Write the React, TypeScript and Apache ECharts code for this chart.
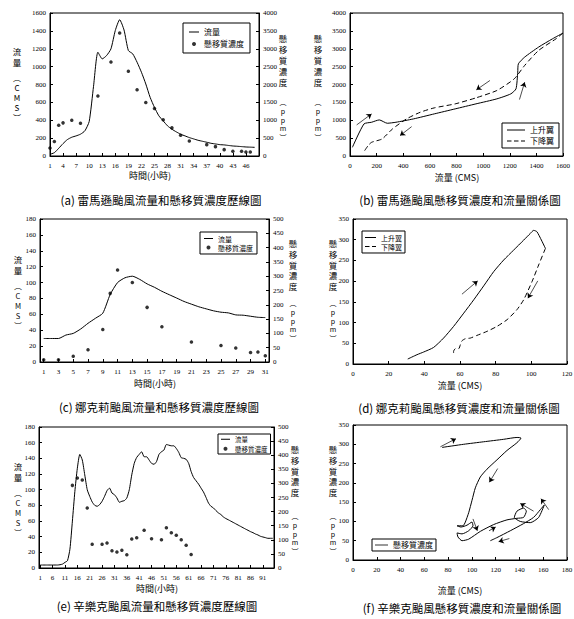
import React, { useEffect, useRef } from 'react';
import * as echarts from 'echarts';

const FONT = '"Liberation Serif", "Noto Sans CJK TC", serif';
const CJK = '"Noto Sans CJK TC", "Liberation Serif", sans-serif';

// ---------- (a) 雷馬遜颱風 流量 / 懸移質濃度 歷線 ----------
const hoursA = Array.from({ length: 49 }, (_, i) => String(i + 1));
const flowA = [19, 37, 86, 139, 184, 210, 225, 244, 281, 386, 780, 1161, 1087, 1124, 1199, 1405, 1525, 1410, 1180, 1143, 1049, 937, 806, 656, 543, 450, 393, 337, 300, 270, 244, 225, 206, 191, 176, 165, 154, 142, 135, 127, 124, 118, 112, 109, 105, 101, 99, 97];
const concAHours = [1, 2, 3, 4, 6, 8, 12, 15, 17, 19, 21, 23, 25, 27, 29, 31, 33, 37, 39, 41, 43, 45, 46, 47];
const concAValues = [225, 403, 862, 927, 1002, 918, 1677, 2632, 3438, 2370, 1855, 1499, 1330, 1012, 787, 581, 422, 318, 262, 178, 131, 131, 112, 112];

// ---------- (b) 雷馬遜颱風 關係圖 ----------
const rise2 = [[18, 243], [105, 897], [162, 944], [220, 1009], [280, 916], [345, 944], [476, 1037], [633, 1178], [790, 1318], [946, 1458], [1103, 1598], [1208, 1738], [1247, 1879], [1260, 2346], [1265, 2579], [1312, 2766], [1417, 3047], [1522, 3280], [1600, 3439]];
const fall2 = [[1600, 3439], [1548, 3280], [1417, 2953], [1312, 2533], [1234, 2159], [1103, 1832], [946, 1626], [790, 1458], [633, 1346], [528, 1224], [424, 1037], [319, 757], [241, 477], [162, 383], [136, 290], [110, 150], [105, 121]];
const arrows2 = [[50, 869, 162, 1178, 0], [1051, 2112, 949, 1850, 0], [463, 822, 376, 570, 0], [1548, 3626, 1621, 3159, 0.4], [1273, 1579, 1312, 2065, -0.3]];

// ---------- (c) 娜克莉颱風 歷線 ----------
const hoursC = Array.from({ length: 31 }, (_, i) => String(i + 1));
const flowC = [29.6, 29.6, 29.6, 33.9, 36, 41.5, 48.7, 55, 61.4, 85, 100, 106, 108, 104, 98.3, 94, 89, 84.7, 80.5, 76.2, 72.8, 69.5, 66.9, 64.4, 62.7, 61.8, 59.3, 58.9, 57.6, 56.3, 55.9];
const concCHours = [1, 3, 5, 7, 9, 10, 11, 13, 15, 17, 21, 25, 27, 29, 30, 31];
const concCValues = [8, 8, 20, 43, 114, 240, 322, 278, 191, 123, 70, 58, 49, 33, 35, 22];

// ---------- (d) 娜克莉颱風 關係圖 ----------
const rise4 = [[30.7, 12], [35.9, 22.5], [39.6, 28.9], [45.2, 40], [50.8, 62.6], [56.4, 90.7], [62.1, 122.8], [67.7, 154.9], [73.3, 188.6], [78.9, 223], [84.5, 251], [90.1, 275], [95.7, 299], [99.4, 315], [101.3, 322.6], [103.2, 319], [107.9, 279]];
const fall4 = [[107.9, 279], [104.1, 239], [100.4, 199], [95.7, 155], [91.9, 131], [86.4, 107], [80.7, 90.7], [75.1, 78.7], [69.5, 69], [65.8, 62.6], [63, 61], [61.1, 56], [60.2, 46.5], [59.3, 37], [57.4, 37], [56.4, 30.5], [56.4, 26.5]];
const arrows4 = [[61.1, 168.5, 69.9, 200.6, 0], [103.6, 200.6, 98.1, 158.9, 0]];

// ---------- (e) 辛樂克颱風 歷線 ----------
const hoursE = Array.from({ length: 95 }, (_, i) => String(i + 1));
const flowE = [
  3.8, 3.8, 3.8, 3.8, 3.8, 3.8, 3.8, 3.8,
  4.2, 5, 7.2, 9.3, 24, 59.9, 97.8, 127.3, 145, 137.9,
  118.9, 99.9, 91.5, 84.3, 80.1, 78.8, 80.9, 85.2, 91.5, 98.7,
  102, 95.7, 93.6, 89.4, 83.9, 85.2, 86, 89.4, 99.9, 118.9,
  133.6, 141.2, 145, 148.4, 142, 142, 137.9, 133.6, 132.4, 135.8,
  145, 148.4, 150.5, 157.7, 156.8, 156, 156, 152.6, 147.6, 140.8,
  140, 138.7, 133.6, 123.1, 115.5, 111.3, 107.1, 102, 97, 90.2,
  83, 78.8, 76.7, 73.4, 70.4, 68.3, 65.3, 63.2, 61.6, 59.9,
  58.2, 56.5, 54.8, 53.1, 51.4, 49.7, 48.1, 46.4, 45.1, 43.4,
  42.2, 40.5, 39.6, 38.8, 37.9, 37.9, 37.9,
];
const concEHours = [14, 16, 18, 20, 22, 26, 28, 30, 32, 34, 36, 38, 40, 43, 46, 50, 52, 54, 56, 58, 60, 62];
const concEValues = [293, 319, 312, 213, 84, 84, 89, 61, 57, 63, 47, 103, 107, 134, 104, 100, 143, 125, 116, 100, 81, 48];

// ---------- (f) 辛樂克颱風 關係圖 ----------
const loop6 = [[74.9, 291.9], [93.1, 300], [109.9, 306.5], [126.7, 312.9], [137.9, 317.7], [141.3, 316.1], [137.9, 304], [129.5, 283.9], [121.1, 259.7], [112.7, 235.5], [107.1, 215.3], [102.9, 187.1], [100.1, 154.8], [97.3, 122.6], [94.5, 98.4], [92.5, 88.7], [87.5, 88.7], [90.8, 85.5], [95.9, 90.3], [100.1, 98.4], [100.9, 88.7], [97.3, 75.8], [91.7, 67.7], [87.5, 70.2], [88.3, 59.7], [91.7, 50], [97.3, 54], [107.1, 74.2], [118.3, 91.9], [129.5, 104], [137.9, 108.1], [143.5, 110.5], [145.8, 126.6], [143.5, 134.7], [137.9, 126.6], [135.7, 110.5], [140.7, 100], [149.1, 96.8], [156.2, 110.5], [160.9, 142.7], [157.6, 130.6], [151.9, 110.5], [143.5, 94.4], [132.3, 75.8], [121.1, 58.1], [115.5, 50]];
const arrows6 = [[73.5, 293.5, 86.6, 314.5, 0], [121.7, 237.1, 114.7, 201.6, 0], [100.9, 106.5, 104.6, 75.8, 0.4], [114.4, 75.8, 120, 85.5, 0], [131.5, 55.6, 122.5, 47.6, 0], [151.9, 126.6, 140.7, 146.8, -0.4], [164.6, 130.6, 158.1, 158.9, -0.4]];

const captions = [
  '(a) 雷馬遜颱風流量和懸移質濃度歷線圖',
  '(b) 雷馬遜颱風懸移質濃度和流量關係圖',
  '(c) 娜克莉颱風流量和懸移質濃度歷線圖',
  '(d) 娜克莉颱風懸移質濃度和流量關係圖',
  '(e) 辛樂克颱風流量和懸移質濃度歷線圖',
  '(f) 辛樂克颱風懸移質濃度和流量關係圖',
];

const black = '#000';
const plain = (v: number) => String(v);

function valAxis(gridIndex: number, min: number, max: number, interval: number, extra: any = {}, margin = 4) {
  return {
    type: 'value', gridIndex, min, max, interval,
    axisLine: { show: true, onZero: false, lineStyle: { color: black, width: 1 } },
    axisTick: { show: true, inside: true, length: 3, lineStyle: { color: black, width: 1 } },
    axisLabel: { color: black, fontSize: 7, fontFamily: FONT, margin, formatter: plain },
    splitLine: { show: false },
    ...extra,
  };
}

function catAxis(gridIndex: number, data: string[], boundaryGap: boolean, interval: any) {
  return {
    type: 'category', gridIndex, data, boundaryGap,
    axisLine: { show: true, onZero: false, lineStyle: { color: black, width: 1 } },
    axisTick: { show: true, inside: true, length: 3, interval, alignWithLabel: true, lineStyle: { color: black, width: 1 } },
    axisLabel: { interval, color: black, fontSize: 7, fontFamily: FONT, margin: 6 },
    splitLine: { show: false },
  };
}

function arrowMark(list: number[][]) {
  return {
    silent: true,
    symbol: ['none', 'arrow'],
    symbolSize: 5,
    label: { show: false },
    emphasis: { disabled: true },
    lineStyle: { color: black, width: 0.7, type: 'solid' },
    data: list.map((a) => [
      { coord: [a[0], a[1]], lineStyle: { curveness: a[4], color: black, width: 0.7, type: 'solid' } },
      { coord: [a[2], a[3]] },
    ]),
  };
}

function vtext(x: number, top: number, s: string, size: number, lh: number) {
  return {
    type: 'text', x, y: top, silent: true,
    style: { text: Array.from(s).join('\n'), fontSize: size, lineHeight: lh, fontFamily: CJK, fill: black, align: 'center', verticalAlign: 'top' },
  };
}
function htext(x: number, y: number, s: string, size: number) {
  return {
    type: 'text', x, y, silent: true,
    style: { text: s, fontSize: size, fontFamily: CJK, fill: black, align: 'center', verticalAlign: 'middle' },
  };
}

// legend icons: thin solid bar / dashed bar, aspect = itemWidth : 1
const solidIcon = (w: number) => `path://M0,0H${w * 10}V10H0Z`;
const dashIcon = (w: number) => {
  const L = w * 10;
  let d = '';
  for (let x = 0; x < L; x += 70) d += `M${x},0H${Math.min(x + 45, L)}V10H${x}Z`;
  return 'path://' + d;
};

export default function App() {
  const ref = useRef<HTMLDivElement>(null);
  useEffect(() => {
    const chart = echarts.init(ref.current!, null, { renderer: 'svg' });
    const gridBase = { show: true, borderColor: black, borderWidth: 1, backgroundColor: 'transparent', containLabel: false, outerBoundsMode: 'none' };
    const legendBase = {
      orient: 'vertical', borderColor: black, borderWidth: 1, backgroundColor: '#fff',
      itemHeight: 4, selectedMode: false, borderRadius: 0, symbolKeepAspect: true,
    };
    const lineS = { color: black, width: 1 };
    const flowLegend = (w: number) => [{ name: '流量', icon: solidIcon(w) }, { name: '懸移質濃度', icon: 'circle' }];
    const limbLegend = (w: number) => [{ name: '上升翼', icon: solidIcon(w) }, { name: '下降翼', icon: dashIcon(w) }];
    const option: any = {
      animation: false,
      backgroundColor: '#fff',
      grid: [
        { left: 50, top: 13, width: 209, height: 143 },
        { left: 350, top: 13, width: 213, height: 143 },
        { left: 40, top: 219, width: 229, height: 143 },
        { left: 353, top: 219, width: 214, height: 145 },
        { left: 39, top: 427, width: 235, height: 141 },
        { left: 353, top: 425, width: 214, height: 135 },
      ].map((g) => ({ ...gridBase, ...g })),
      xAxis: [
        catAxis(0, hoursA, false, (i: number) => i % 3 === 0 && i <= 45),
        valAxis(1, 0, 1600, 200, {}, 6),
        catAxis(2, hoursC, true, 1),
        valAxis(3, 0, 120, 20, {}, 6),
        catAxis(4, hoursE, true, 4),
        valAxis(5, 0, 180, 20, {}, 6),
      ],
      yAxis: [
        valAxis(0, 0, 1600, 200),
        valAxis(0, 0, 4000, 500, { position: 'right' }),
        valAxis(1, 0, 4000, 500),
        valAxis(2, 0, 180, 20),
        valAxis(2, 0, 500, 50, { position: 'right' }),
        valAxis(3, 0, 350, 50),
        valAxis(4, 0, 180, 20),
        valAxis(4, 0, 500, 50, { position: 'right' }),
        valAxis(5, 0, 350, 50),
      ],
      legend: [
        { ...legendBase, left: 183, top: 23, itemWidth: 10, itemGap: 4, padding: [5, 6], textStyle: { color: black, fontSize: 8, fontFamily: CJK }, data: flowLegend(10) },
        { ...legendBase, left: 502, top: 123, itemWidth: 18, itemGap: 3, padding: [3, 5], textStyle: { color: black, fontSize: 8, fontFamily: CJK }, data: limbLegend(18) },
        { ...legendBase, left: 200, top: 232, itemWidth: 9, itemGap: 2, padding: [3, 4], textStyle: { color: black, fontSize: 7, fontFamily: CJK }, data: flowLegend(9) },
        { ...legendBase, left: 362, top: 231, itemWidth: 11, itemGap: 2, padding: [3, 3], textStyle: { color: black, fontSize: 7, fontFamily: CJK }, data: limbLegend(11) },
        { ...legendBase, left: 218, top: 434, itemWidth: 9, itemGap: 3, padding: [2, 3], textStyle: { color: black, fontSize: 6.5, fontFamily: CJK }, data: flowLegend(9) },
        { ...legendBase, left: 372, top: 539, itemWidth: 13, itemGap: 1, padding: [2, 3], textStyle: { color: black, fontSize: 8, fontFamily: CJK }, data: [{ name: '懸移質濃度', icon: solidIcon(13) }] },
      ],
      series: [
        { type: 'line', name: '流量', xAxisIndex: 0, yAxisIndex: 0, data: flowA, symbol: 'none', smooth: 0.2, lineStyle: lineS, itemStyle: { color: black } },
        { type: 'scatter', name: '懸移質濃度', xAxisIndex: 0, yAxisIndex: 1, data: concAHours.map((h, i) => [String(h), concAValues[i]]), symbol: 'circle', symbolSize: 3.5, itemStyle: { color: black } },
        { type: 'line', name: '上升翼', xAxisIndex: 1, yAxisIndex: 2, data: rise2, symbol: 'none', smooth: 0.2, lineStyle: lineS, itemStyle: { color: black }, markLine: arrowMark(arrows2) },
        { type: 'line', name: '下降翼', xAxisIndex: 1, yAxisIndex: 2, data: fall2, symbol: 'none', smooth: 0.2, lineStyle: { color: black, width: 1, type: [5, 3] }, itemStyle: { color: black } },
        { type: 'line', name: '流量', xAxisIndex: 2, yAxisIndex: 3, data: flowC, symbol: 'none', smooth: 0.2, lineStyle: lineS, itemStyle: { color: black } },
        { type: 'scatter', name: '懸移質濃度', xAxisIndex: 2, yAxisIndex: 4, data: concCHours.map((h, i) => [String(h), concCValues[i]]), symbol: 'circle', symbolSize: 3.5, itemStyle: { color: black } },
        { type: 'line', name: '上升翼', xAxisIndex: 3, yAxisIndex: 5, data: rise4, symbol: 'none', smooth: 0.2, lineStyle: lineS, itemStyle: { color: black }, markLine: arrowMark(arrows4) },
        { type: 'line', name: '下降翼', xAxisIndex: 3, yAxisIndex: 5, data: fall4, symbol: 'none', smooth: 0.2, lineStyle: { color: black, width: 1, type: [5, 3] }, itemStyle: { color: black } },
        { type: 'line', name: '流量', xAxisIndex: 4, yAxisIndex: 6, data: flowE, symbol: 'none', smooth: 0.2, lineStyle: lineS, itemStyle: { color: black } },
        { type: 'scatter', name: '懸移質濃度', xAxisIndex: 4, yAxisIndex: 7, data: concEHours.map((h, i) => [String(h), concEValues[i]]), symbol: 'circle', symbolSize: 3.5, itemStyle: { color: black } },
        { type: 'line', name: '懸移質濃度', xAxisIndex: 5, yAxisIndex: 8, data: loop6, symbol: 'none', smooth: 0.2, lineStyle: lineS, itemStyle: { color: black }, markLine: arrowMark(arrows6) },
      ],
      graphic: [
        // (a)
        vtext(17, 45, '流量', 8.5, 11.5), vtext(17, 72, '︵CMS︶', 8, 10),
        vtext(283, 32, '懸移質濃度', 8.5, 11), vtext(283, 98, '︵ppm︶', 7, 8.6),
        htext(150, 175, '時間(小時)', 9),
        // (b)
        vtext(318, 32, '懸移質濃度', 8.5, 11), vtext(318, 98, '︵ppm︶', 7, 8.6),
        htext(457, 177, '流量 (CMS)', 9),
        // (c)
        vtext(18, 253, '流量', 8.5, 11.5), vtext(18, 281, '︵CMS︶', 7.5, 9.8),
        vtext(293, 238, '懸移質濃度', 8.5, 10.6), vtext(293, 299, '︵ppm︶', 7, 8.6),
        htext(155, 383, '時間(小時)', 9),
        // (d)
        vtext(333, 238, '懸移質濃度', 8.5, 10.6), vtext(333, 299, '︵ppm︶', 7, 8.6),
        htext(460, 385, '流量 (CMS)', 9),
        // (e)
        vtext(18, 460, '流量', 8.5, 11.5), vtext(18, 488, '︵CMS︶', 7.5, 9.8),
        vtext(295, 444, '懸移質濃度', 8.5, 10.6), vtext(295, 512, '︵ppm︶', 7, 8.6),
        htext(157, 588, '時間(小時)', 9),
        // (f)
        vtext(333, 444, '懸移質濃度', 8.5, 10.6), vtext(333, 512, '︵ppm︶', 7, 8.6),
        htext(460, 590, '流量 (CMS)', 9),
        // captions
        htext(161, 200, captions[0], 11.5),
        htext(460, 200, captions[1], 11.5),
        htext(159, 407, captions[2], 11.5),
        htext(459, 408, captions[3], 11.5),
        htext(157, 606, captions[4], 11.5),
        htext(462, 608, captions[5], 11.5),
      ],
    };
    chart.setOption(option);
    return () => chart.dispose();
  }, []);
  return <div ref={ref} style={{ position: 'fixed', left: 0, top: 0, width: 574, height: 619, background: '#fff' }} />;
}
